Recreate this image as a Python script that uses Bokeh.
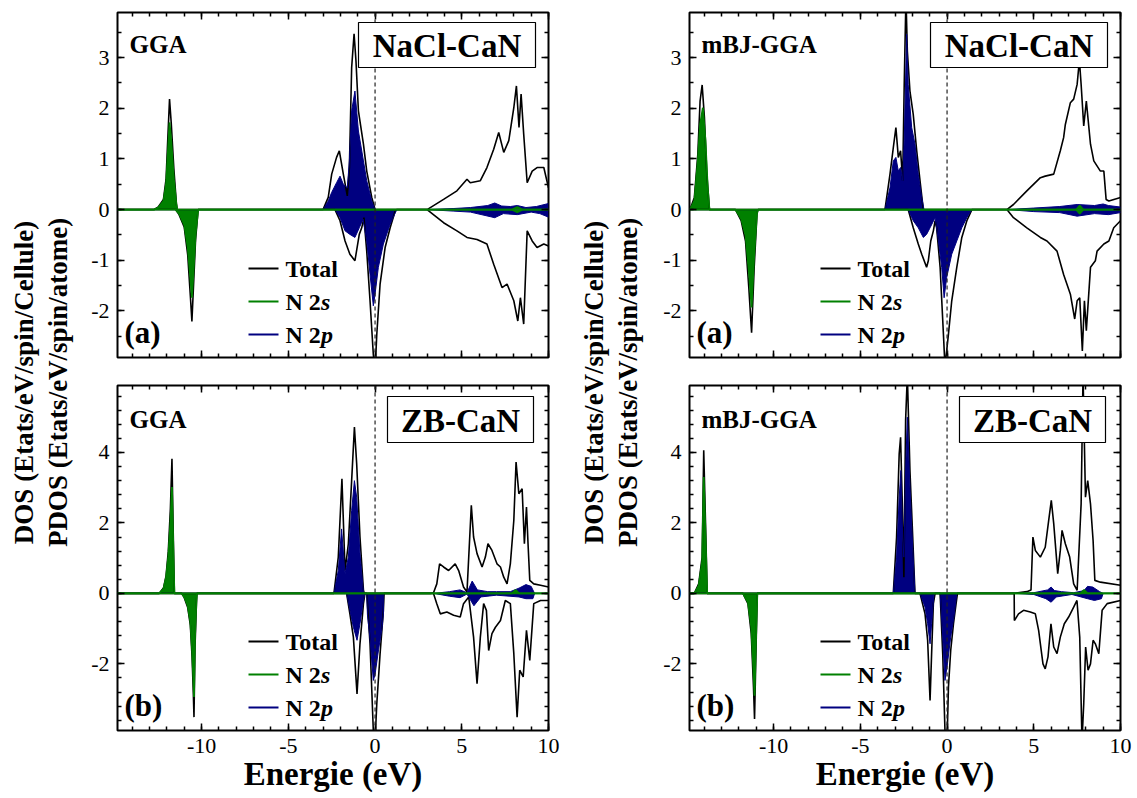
import math
from bokeh.plotting import figure
from bokeh.models import Range1d, LinearAxis, Span, Label, BoxAnnotation, FixedTicker
from bokeh.layouts import row, column
from bokeh.embed import file_html
from bokeh.resources import INLINE

FONT = "Liberation Serif"
GREEN = "#008000"
NAVY = "#000080"

# ---------------- axis ranges / ticks ----------------
E_RANGE = (-14.85, 10.0)
Y_RANGE_NACL = (-2.92, 3.89)
Y_RANGE_ZB = (-3.89, 5.9)
X_TICKS = [-10, -5, 0, 5, 10]
X_MINOR = [-14, -13, -12, -11, -10, -9, -8, -7, -6, -5, -4, -3, -2, -1, 0, 1, 2, 3, 4, 5, 6, 7, 8, 9, 10]
Y_TICKS_NACL = [-2, -1, 0, 1, 2, 3]
Y_MINOR_NACL = [-2.5, -2, -1.5, -1, -0.5, 0, 0.5, 1, 1.5, 2, 2.5, 3, 3.5]
Y_TICKS_ZB = [-2, 0, 2, 4]
Y_MINOR_ZB = [-3.6, -3.2, -2.8, -2.4, -2.0, -1.6, -1.2, -0.8, -0.4, 0.0, 0.4, 0.8, 1.2, 1.6,
              2.0, 2.4, 2.8, 3.2, 3.6, 4.0, 4.4, 4.8, 5.2, 5.6]

# ---------------- texts ----------------
METHODS = ["GGA", "GGA", "mBJ-GGA", "mBJ-GGA"]
PHASES = ["NaCl-CaN", "ZB-CaN", "NaCl-CaN", "ZB-CaN"]
TAGS = ["(a)", "(b)", "(a)", "(b)"]
LEGEND_MAIN = ["Total", "N 2", "N 2"]
LEGEND_ITALIC = ["", "s", "p"]
X_TITLE = "Energie (eV)"
Y_TITLE_1 = "DOS (Etats/eV/spin/Cellule)"
Y_TITLE_2 = "PDOS (Etats/eV/spin/atome)"

# ---------------- data: (energy eV, DOS) ----------------
# GGA, NaCl-CaN
GGA_NACL_TOT_UP = [(-14.85, 0), (-12.75, 0), (-12.5, 0.05), (-12.2, 0.2), (-12.05, 0.6), (-11.95, 1.4), (-11.85, 2.18),
                   (-11.75, 1.7), (-11.6, 0.8), (-11.45, 0.1), (-11.4, 0),
                   (-3.0, 0), (-2.7, 0.24), (-2.5, 0.7), (-2.22, 1.03), (-2.06, 1.16), (-1.83, 0.7), (-1.6, 0.27),
                   (-1.48, 0.83), (-1.35, 2.8), (-1.21, 3.47), (-1.1, 2.93), (-0.96, 1.95), (-0.67, 1.29),
                   (-0.48, 0.76), (-0.19, 0.24), (0.0, 0),
                   (3.0, 0), (3.95, 0.2), (4.72, 0.37), (5.3, 0.6), (5.49, 0.53), (6.07, 0.57), (6.45, 0.83),
                   (6.84, 1.19), (7.13, 1.52), (7.42, 1.13), (7.71, 1.36), (8.0, 2.01), (8.15, 2.44), (8.3, 1.62),
                   (8.42, 2.28), (8.57, 1.49), (8.77, 0.53), (9.06, 0.76), (9.34, 0.83), (9.73, 0.83), (10.0, 0.43)]
GGA_NACL_TOT_DN = [(-14.85, 0), (-11.5, 0), (-11.3, -0.1), (-11.0, -0.35), (-10.8, -0.9), (-10.65, -1.7),
                   (-10.56, -2.21), (-10.48, -1.6), (-10.35, -0.6), (-10.2, 0),
                   (-2.31, 0), (-2.02, -0.22), (-1.73, -0.62), (-1.45, -0.88), (-1.16, -1.01), (-0.91, -0.49),
                   (-0.77, -0.36), (-0.64, -0.16), (-0.48, -0.82), (-0.29, -1.8), (-0.1, -2.86), (0.0, -3.2),
                   (0.1, -2.46), (0.29, -1.47), (0.58, -0.75), (0.87, -0.36), (1.16, -0.03), (1.25, 0),
                   (3.0, 0), (3.95, -0.26), (4.72, -0.42), (5.3, -0.55), (5.88, -0.59), (6.45, -0.68), (6.84, -1.08),
                   (7.32, -1.54), (7.61, -1.47), (8.0, -1.8), (8.23, -2.2), (8.38, -1.74), (8.57, -2.26),
                   (8.77, -0.42), (9.06, -0.62), (9.34, -0.75), (9.73, -0.68), (10.0, -0.72)]
GGA_NACL_S_UP = [(-14.85, 0), (-12.75, 0), (-12.5, 0.04), (-12.2, 0.17), (-12.05, 0.5), (-11.95, 1.1), (-11.85, 1.72),
                 (-11.75, 1.35), (-11.6, 0.6), (-11.45, 0.08), (-11.4, 0), (7.9, 0), (8.2, 0.05), (8.5, 0), (10.0, 0)]
GGA_NACL_S_DN = [(-14.85, 0), (-11.5, 0), (-11.3, -0.08), (-11.0, -0.3), (-10.8, -0.75), (-10.65, -1.35),
                 (-10.56, -1.74), (-10.48, -1.3), (-10.35, -0.5), (-10.2, 0), (7.9, 0), (8.2, -0.05), (8.5, 0),
                 (10.0, 0)]
GGA_NACL_P_UP = [(-14.85, 0), (-3.0, 0), (-2.7, 0.17), (-2.5, 0.34), (-2.22, 0.53), (-2.02, 0.66), (-1.83, 0.5),
                 (-1.6, 0.43), (-1.48, 0.96), (-1.35, 1.95), (-1.16, 2.34), (-0.96, 1.55), (-0.67, 0.96),
                 (-0.48, 0.57), (-0.19, 0.17), (0.0, 0), (3.0, 0), (4.5, 0.02), (5.5, 0.04), (6.5, 0.08),
                 (6.9, 0.13), (7.3, 0.07), (7.8, 0.06), (8.2, 0.08), (8.7, 0.04), (9.3, 0.06), (10.0, 0.12)]
GGA_NACL_P_DN = [(-14.85, 0), (-2.31, 0), (-2.02, -0.16), (-1.73, -0.42), (-1.45, -0.49), (-1.16, -0.55),
                 (-0.91, -0.36), (-0.69, -0.19), (-0.48, -0.62), (-0.29, -1.28), (-0.1, -1.9), (0.0, -1.67),
                 (0.19, -1.14), (0.48, -0.68), (0.87, -0.29), (1.25, 0), (3.0, 0), (4.5, -0.03), (5.5, -0.05),
                 (6.9, -0.16), (7.4, -0.08), (8.2, -0.1), (9.0, -0.05), (9.5, -0.08), (10.0, -0.15)]

# GGA, ZB-CaN
GGA_ZB_TOT_UP = [(-14.85, 0), (-12.45, 0), (-12.2, 0.15), (-12.05, 0.5), (-11.92, 1.2), (-11.8, 2.4), (-11.71, 3.82),
                 (-11.64, 1.8), (-11.57, 0),
                 (-2.37, 0), (-2.12, 1.03), (-1.91, 3.25), (-1.73, 0.65), (-1.54, 1.41), (-1.35, 3.2),
                 (-1.19, 4.72), (-1.06, 3.68), (-0.87, 1.6), (-0.67, 0.09), (-0.62, 0),
                 (3.2, 0), (3.37, 0.02), (3.56, 0.27), (3.72, 0.84), (3.95, 0.75), (4.24, 0.65), (4.62, 0.84),
                 (4.82, 0.65), (5.1, 0.18), (5.3, 0.04), (5.55, 2.5), (5.68, 1.6), (5.88, 1.13), (6.17, 0.75),
                 (6.36, 1.03), (6.51, 1.41), (6.74, 1.22), (7.03, 0.84), (7.23, 0.75), (7.42, 0.46), (7.61, 0.27),
                 (7.8, 0.84), (8.0, 2.07), (8.13, 3.73), (8.29, 2.83), (8.48, 2.97), (8.61, 1.41), (8.73, 2.45),
                 (8.82, 1.41), (8.92, 0.37), (9.15, 0.27), (9.54, 0.23), (10.0, 0.18)]
GGA_ZB_TOT_DN = [(-14.85, 0), (-11.15, 0), (-11.0, -0.12), (-10.8, -0.4), (-10.65, -0.9), (-10.55, -1.8),
                 (-10.48, -2.8), (-10.44, -3.51), (-10.38, -1.5), (-10.3, -0.3), (-10.27, 0),
                 (-1.64, 0), (-1.45, -0.58), (-1.25, -1.24), (-1.04, -2.85), (-0.87, -1.43), (-0.67, -0.29),
                 (-0.58, 0), (-0.48, 0), (-0.29, -1.43), (-0.1, -3.9), (0.0, -4.2), (0.1, -3.13), (0.29, -1.71),
                 (0.48, -0.48), (0.52, 0),
                 (3.37, 0), (3.56, -0.29), (3.76, -0.58), (4.14, -0.53), (4.53, -0.62), (4.91, -0.67),
                 (5.1, -0.29), (5.4, -0.1), (5.68, -1.24), (5.88, -2.56), (6.07, -1.24), (6.26, -0.29),
                 (6.42, -0.48), (6.55, -1.62), (6.74, -1.14), (6.94, -0.96), (7.23, -0.77), (7.51, -0.2),
                 (7.8, -0.29), (8.0, -1.71), (8.19, -3.51), (8.34, -2.18), (8.54, -2.37), (8.73, -1.05),
                 (8.92, -1.9), (9.15, -0.29), (9.54, -0.2), (10.0, -0.2)]
GGA_ZB_S_UP = [(-14.85, 0), (-12.45, 0), (-12.2, 0.13), (-12.05, 0.45), (-11.92, 1.05), (-11.8, 2.0), (-11.71, 3.02),
               (-11.64, 1.45), (-11.57, 0), (7.9, 0), (8.1, 0.1), (8.3, 0), (10.0, 0)]
GGA_ZB_S_DN = [(-14.85, 0), (-11.15, 0), (-11.0, -0.1), (-10.8, -0.35), (-10.65, -0.8), (-10.55, -1.6),
               (-10.48, -2.4), (-10.44, -2.94), (-10.38, -1.2), (-10.3, -0.2), (-10.27, 0), (10.0, 0)]
GGA_ZB_P_UP = [(-14.85, 0), (-2.37, 0), (-2.12, 0.65), (-1.93, 1.83), (-1.73, 0.56), (-1.54, 1.03), (-1.35, 2.35),
               (-1.19, 3.2), (-1.06, 2.73), (-0.87, 1.13), (-0.67, 0.04), (-0.62, 0), (3.4, 0), (4.3, 0.05),
               (4.9, 0.1), (5.3, 0.02), (5.6, 0.35), (5.9, 0.1), (6.5, 0.05), (7.0, 0.05), (7.8, 0.05),
               (8.3, 0.15), (8.7, 0.25), (9.0, 0.2), (9.2, 0), (10.0, 0)]
GGA_ZB_P_DN = [(-14.85, 0), (-1.64, 0), (-1.45, -0.48), (-1.25, -0.96), (-1.04, -1.33), (-0.87, -0.86),
               (-0.67, -0.2), (-0.58, 0), (-0.48, 0), (-0.44, -0.6), (-0.29, -1.3), (-0.1, -2.47), (0.0, -2.3),
               (0.2, -1.6), (0.4, -1.0), (0.48, -0.6), (0.5, 0), (3.4, 0), (4.3, -0.08), (4.9, -0.12),
               (5.3, -0.02), (5.7, -0.35), (6.1, -0.1), (7.0, -0.05), (8.3, -0.1), (8.7, -0.15), (9.1, -0.15),
               (9.2, 0), (10.0, 0)]

# mBJ-GGA, NaCl-CaN
MBJ_NACL_TOT_UP = [(-14.85, 0), (-14.82, 0), (-14.57, 0.24), (-14.37, 1.09), (-14.24, 2.14), (-14.12, 2.46),
                   (-13.99, 1.82), (-13.85, 0.7), (-13.7, 0),
                   (-3.58, 0), (-3.29, 0.7), (-3.1, 1.22), (-2.95, 1.62), (-2.81, 1.03), (-2.68, 1.16),
                   (-2.56, 0.57), (-2.47, 2.47), (-2.37, 4.2), (-2.29, 3.13), (-2.14, 2.34), (-1.95, 1.88),
                   (-1.75, 1.16), (-1.56, 0.57), (-1.37, 0),
                   (3.45, 0), (3.83, 0.1), (4.6, 0.37), (5.38, 0.63), (5.66, 0.66), (6.15, 0.7), (6.53, 1.16),
                   (6.72, 1.42), (6.82, 1.68), (7.11, 2.11), (7.3, 2.18), (7.5, 2.47), (7.63, 2.95), (7.73, 2.47),
                   (7.88, 1.65), (8.03, 2.14), (8.27, 1.29), (8.46, 0.96), (8.84, 0.76), (9.04, 0.76),
                   (9.17, 0.2), (9.33, 0.17), (10.0, 0.24)]
MBJ_NACL_TOT_DN = [(-14.85, 0), (-12.2, 0), (-11.87, -0.22), (-11.62, -0.62), (-11.43, -1.54), (-11.27, -2.43),
                   (-11.12, -1.14), (-10.96, -0.09), (-10.9, 0),
                   (-2.24, 0), (-1.95, -0.36), (-1.66, -0.68), (-1.46, -0.88), (-1.18, -1.14), (-1.08, -1.01),
                   (-0.94, -0.62), (-0.79, -0.42), (-0.69, -0.22), (-0.6, -0.36), (-0.4, -1.14), (-0.21, -2.46),
                   (-0.12, -3.1), (0.08, -2.46), (0.27, -1.8), (0.56, -1.14), (0.85, -0.55), (1.14, -0.22),
                   (1.43, 0),
                   (3.45, 0), (3.83, -0.16), (4.6, -0.36), (5.38, -0.55), (5.76, -0.62), (6.34, -0.82),
                   (6.72, -1.28), (7.11, -1.67), (7.36, -2.16), (7.5, -1.8), (7.65, -1.74), (7.8, -2.79),
                   (7.92, -1.8), (8.03, -2.39), (8.27, -1.14), (8.55, -1.01), (8.65, -0.82), (9.04, -0.68),
                   (9.33, -0.62), (9.61, -0.36), (10.0, -0.22)]
MBJ_NACL_S_UP = [(-14.85, 0), (-14.82, 0), (-14.57, 0.17), (-14.37, 0.96), (-14.24, 1.68), (-14.08, 2.01),
                 (-13.93, 1.36), (-13.8, 0.43), (-13.7, 0), (7.45, 0), (7.65, 0.08), (7.85, 0), (10.0, 0)]
MBJ_NACL_S_DN = [(-14.85, 0), (-12.2, 0), (-11.87, -0.18), (-11.62, -0.5), (-11.43, -1.2), (-11.27, -1.93),
                 (-11.12, -0.9), (-10.96, -0.07), (-10.9, 0), (7.45, 0), (7.65, -0.08), (7.85, 0), (10.0, 0)]
MBJ_NACL_P_UP = [(-14.85, 0), (-3.58, 0), (-3.29, 0.43), (-3.1, 0.96), (-2.95, 1.03), (-2.81, 0.76), (-2.68, 0.83),
                 (-2.56, 0.57), (-2.47, 1.36), (-2.33, 3.46), (-2.24, 2.47), (-2.04, 1.62), (-1.85, 1.29),
                 (-1.66, 0.7), (-1.46, 0.24), (-1.33, 0), (3.5, 0), (5.0, 0.03), (6.5, 0.06), (7.5, 0.1),
                 (8.5, 0.08), (9.0, 0.11), (9.3, 0.08), (10.0, 0.05)]
MBJ_NACL_P_DN = [(-14.85, 0), (-2.24, 0), (-1.95, -0.22), (-1.66, -0.36), (-1.37, -0.55), (-1.18, -0.49),
                 (-0.98, -0.36), (-0.69, -0.16), (-0.5, -0.62), (-0.31, -1.14), (-0.17, -1.74), (-0.02, -1.34),
                 (0.27, -0.88), (0.56, -0.62), (0.85, -0.36), (1.14, -0.16), (1.43, 0), (3.5, 0), (5.0, -0.04),
                 (6.5, -0.06), (7.5, -0.13), (8.5, -0.08), (9.3, -0.1), (10.0, -0.06)]

# mBJ-GGA, ZB-CaN
MBJ_ZB_TOT_UP = [(-14.85, 0), (-14.57, 0), (-14.32, 0.27), (-14.12, 1.03), (-14.03, 4.06), (-13.93, 2.07),
                 (-13.83, 0),
                 (-3.1, 0), (-2.91, 1.6), (-2.76, 3.96), (-2.68, 4.43), (-2.58, 2.54), (-2.49, 0.46), (-2.39, 4.91),
                 (-2.29, 6.2), (-2.14, 3.49), (-1.98, 1.6), (-1.85, 0),
                 (3.83, 0), (4.6, 0.05), (4.84, 0.1), (4.95, 1.6), (5.09, 1.22), (5.38, 1.03), (5.66, 1.31),
                 (5.86, 2.07), (6.01, 2.64), (6.15, 1.98), (6.38, 0.56), (6.53, 1.22), (6.63, 1.79), (6.82, 1.41),
                 (7.07, 1.03), (7.3, 0.27), (7.5, 0.09), (7.73, 2.54), (7.84, 6.2), (7.98, 2.73), (8.11, 3.2),
                 (8.27, 2.54), (8.42, 1.5), (8.52, 0.37), (8.84, 0.32), (10.0, 0.23)]
MBJ_ZB_TOT_DN = [(-14.85, 0), (-11.77, 0), (-11.48, -0.29), (-11.29, -1.14), (-11.16, -2.66), (-11.1, -3.56),
                 (-11.0, -1.24), (-10.94, 0),
                 (-1.56, 0), (-1.27, -0.58), (-1.12, -1.33), (-0.98, -3.04), (-0.89, -1.7), (-0.79, -0.29),
                 (-0.69, 0), (-0.4, 0), (-0.25, -1.71), (-0.12, -3.9), (0.0, -4.2), (0.08, -2.66), (0.21, -1.62),
                 (0.37, -0.86), (0.52, -0.29), (0.6, 0),
                 (3.87, 0), (3.88, -0.77), (4.12, -0.58), (4.41, -0.48), (4.8, -0.53), (5.09, -0.58),
                 (5.28, -1.05), (5.53, -2.0), (5.66, -2.14), (5.82, -1.8), (5.99, -0.86), (6.15, -1.52),
                 (6.34, -1.71), (6.53, -1.24), (6.76, -0.86), (7.01, -0.67), (7.3, -0.39), (7.49, -0.2),
                 (7.65, -1.24), (7.78, -4.2), (7.88, -3.13), (7.99, -1.52), (8.13, -2.18), (8.27, -2.0),
                 (8.42, -1.33), (8.55, -1.43), (8.75, -1.71), (8.94, -0.48), (9.23, -0.29), (10.0, -0.2)]
MBJ_ZB_S_UP = [(-14.85, 0), (-14.57, 0), (-14.32, 0.22), (-14.12, 0.9), (-14.03, 3.3), (-13.93, 1.7), (-13.83, 0),
               (7.7, 0), (7.9, 0.1), (8.1, 0), (10.0, 0)]
MBJ_ZB_S_DN = [(-14.85, 0), (-11.77, 0), (-11.48, -0.25), (-11.29, -0.95), (-11.16, -2.2), (-11.1, -2.9),
               (-11.0, -1.0), (-10.94, 0), (10.0, 0)]
MBJ_ZB_P_UP = [(-14.85, 0), (-3.1, 0), (-2.91, 1.03), (-2.76, 2.73), (-2.66, 3.49), (-2.56, 1.6), (-2.49, 1.03),
               (-2.39, 3.49), (-2.29, 5.0), (-2.14, 3.02), (-1.98, 1.31), (-1.85, 0), (4.0, 0), (5.0, 0.02),
               (5.8, 0.1), (6.0, 0.18), (6.2, 0.08), (6.6, 0.05), (7.3, 0.02), (7.9, 0.08), (8.1, 0.2),
               (8.4, 0.18), (8.8, 0.05), (9.0, 0), (10.0, 0)]
MBJ_ZB_P_DN = [(-14.85, 0), (-1.56, 0), (-1.27, -0.39), (-1.12, -0.86), (-0.98, -1.43), (-0.89, -0.86),
               (-0.75, 0), (-0.4, 0), (-0.25, -1.24), (-0.12, -2.47), (0.02, -2.0), (0.21, -1.24), (0.4, -0.67),
               (0.56, 0), (4.0, 0), (5.0, -0.03), (5.7, -0.15), (6.0, -0.25), (6.3, -0.1), (7.2, -0.03),
               (8.1, -0.15), (8.5, -0.2), (8.9, -0.15), (9.0, 0), (10.0, 0)]

# ---------------- layout constants (pixels) ----------------
FW, FH = 431, 345


def xy(pts):
    return [a for a, b in pts], [b for a, b in pts]


def style_axis(ax, ticks, minor, show_labels):
    ax.ticker = FixedTicker(ticks=ticks, minor_ticks=minor)
    ax.axis_line_color = None
    ax.major_tick_in = 7
    ax.major_tick_out = 0
    ax.minor_tick_in = 4
    ax.minor_tick_out = 0
    ax.major_tick_line_color = "black"
    ax.major_tick_line_width = 1.5
    ax.minor_tick_line_color = "black"
    ax.minor_tick_line_width = 1.5
    ax.major_label_text_font = FONT
    if show_labels:
        ax.major_label_text_color = "black"
        ax.major_label_text_font_size = "22px"
        ax.major_label_overrides = {t: str(t) for t in ticks}
    else:
        ax.major_label_text_color = None
        ax.major_label_text_alpha = 0
        ax.major_label_text_font_size = "1px"
        ax.major_label_standoff = 0


def build_panel(idx, data, yr, yticks, yminor, bottom, bl, br):
    tot_up, tot_dn, s_up, s_dn, p_up, p_dn = data
    p = figure(frame_width=FW, frame_height=FH, x_range=Range1d(*E_RANGE), y_range=Range1d(*yr),
               output_backend="svg", toolbar_location=None,
               min_border_left=bl, min_border_right=br,
               min_border_top=14 if bottom else 12, min_border_bottom=68 if bottom else 14)
    p.xgrid.visible = False
    p.ygrid.visible = False
    p.outline_line_color = "black"
    p.outline_line_width = 2
    p.background_fill_color = "white"
    p.border_fill_color = "white"

    bottom_ax = p.xaxis[0]
    left_ax = p.yaxis[0]
    style_axis(bottom_ax, X_TICKS, X_MINOR, bottom)
    style_axis(left_ax, yticks, yminor, True)
    left_ax.major_label_standoff = 8
    if bottom:
        bottom_ax.major_label_standoff = 8
        bottom_ax.axis_label = X_TITLE
        bottom_ax.axis_label_text_font = FONT
        bottom_ax.axis_label_text_font_style = "bold"
        bottom_ax.axis_label_text_font_size = "33px"
        bottom_ax.axis_label_text_color = "black"
        bottom_ax.axis_label_standoff = 0
    top_ax = LinearAxis()
    right_ax = LinearAxis()
    style_axis(top_ax, X_TICKS, X_MINOR, False)
    style_axis(right_ax, yticks, yminor, False)
    p.add_layout(top_ax, "above")
    p.add_layout(right_ax, "right")

    # Fermi level
    p.add_layout(Span(location=0, dimension="height", line_color="#222222", line_width=1.2,
                      line_dash="4 3"))

    # fills
    for pts, col in [(p_up, NAVY), (p_dn, NAVY), (s_up, GREEN), (s_dn, GREEN)]:
        x, y = xy(pts)
        p.varea(x=x, y1=0, y2=y, fill_color=col, fill_alpha=1.0)
    # total
    for pts in (tot_up, tot_dn):
        x, y = xy(pts)
        p.line(x, y, line_color="black", line_width=1.6)
    for pts in (p_up, p_dn):
        x, y = xy(pts)
        p.line(x, y, line_color=NAVY, line_width=1.0)
    for pts in (s_up, s_dn):
        x, y = xy(pts)
        p.line(x, y, line_color=GREEN, line_width=1.8)

    def X(dx):
        return E_RANGE[0] + dx / FW * (E_RANGE[1] - E_RANGE[0])

    def Y(dy):
        return yr[1] - dy / FH * (yr[1] - yr[0])

    # method label
    p.add_layout(Label(x=X(12), y=Y(34 if bottom else 32), text=METHODS[idx], text_font=FONT,
                       text_font_style="bold", text_font_size="25px", text_color="black",
                       text_align="left", text_baseline="alphabetic"))
    # phase box
    if bottom:
        bx = (270, 416, 11, 57)
    else:
        bx = (241, 418, 10, 55)
    p.add_layout(BoxAnnotation(left=X(bx[0]), right=X(bx[1]), top=Y(bx[2]), bottom=Y(bx[3]),
                               fill_color="white", fill_alpha=1.0, line_color="black", line_alpha=1.0,
                               line_width=1.2))
    p.add_layout(Label(x=X((bx[0] + bx[1]) / 2), y=Y((bx[2] + bx[3]) / 2 + 1), text=PHASES[idx], text_font=FONT,
                       text_font_style="bold", text_font_size="33px", text_color="black",
                       text_align="center", text_baseline="middle"))
    # tag
    p.add_layout(Label(x=X(7), y=Y(320), text=TAGS[idx], text_font=FONT, text_font_style="bold",
                       text_font_size="31px", text_color="black", text_align="left", text_baseline="middle"))
    # legend
    leg_y = [256, 289, 322]
    leg_col = ["black", GREEN, NAVY]
    p.segment(x0=[X(131)] * 3, x1=[X(161)] * 3, y0=[Y(v) for v in leg_y], y1=[Y(v) for v in leg_y],
              line_color=leg_col, line_width=2)
    for k in range(3):
        p.add_layout(Label(x=X(168), y=Y(leg_y[k]), text=LEGEND_MAIN[k], text_font=FONT, text_font_style="bold",
                           text_font_size="24px", text_color="black", text_align="left", text_baseline="middle"))
        if LEGEND_ITALIC[k]:
            p.add_layout(Label(x=X(168 + 35.5), y=Y(leg_y[k]), text=LEGEND_ITALIC[k], text_font=FONT,
                               text_font_style="bold italic", text_font_size="24px", text_color="black",
                               text_align="left", text_baseline="middle"))
    return p


def title_fig(w, x1, x2):
    t = figure(width=w, height=798, x_range=Range1d(0, w), y_range=Range1d(0, 798),
               output_backend="svg", toolbar_location=None, x_axis_location=None, y_axis_location=None,
               min_border=0, min_border_left=0, min_border_right=0, min_border_top=0, min_border_bottom=0)
    t.xgrid.visible = False
    t.ygrid.visible = False
    t.outline_line_color = None
    for xx, txt in [(x1, Y_TITLE_1), (x2, Y_TITLE_2)]:
        t.add_layout(Label(x=xx, y=798 - 382, text=txt, angle=math.pi / 2, text_font=FONT,
                           text_font_style="bold", text_font_size="27px", text_color="black",
                           text_align="center", text_baseline="middle"))
    return t


f1 = build_panel(0, (GGA_NACL_TOT_UP, GGA_NACL_TOT_DN, GGA_NACL_S_UP, GGA_NACL_S_DN, GGA_NACL_P_UP, GGA_NACL_P_DN),
                 Y_RANGE_NACL, Y_TICKS_NACL, Y_MINOR_NACL, False, 37, 27)
f2 = build_panel(1, (GGA_ZB_TOT_UP, GGA_ZB_TOT_DN, GGA_ZB_S_UP, GGA_ZB_S_DN, GGA_ZB_P_UP, GGA_ZB_P_DN),
                 Y_RANGE_ZB, Y_TICKS_ZB, Y_MINOR_ZB, True, 37, 27)
f3 = build_panel(2, (MBJ_NACL_TOT_UP, MBJ_NACL_TOT_DN, MBJ_NACL_S_UP, MBJ_NACL_S_DN, MBJ_NACL_P_UP, MBJ_NACL_P_DN),
                 Y_RANGE_NACL, Y_TICKS_NACL, Y_MINOR_NACL, False, 34, 17)
f4 = build_panel(3, (MBJ_ZB_TOT_UP, MBJ_ZB_TOT_DN, MBJ_ZB_S_UP, MBJ_ZB_S_DN, MBJ_ZB_P_UP, MBJ_ZB_P_DN),
                 Y_RANGE_ZB, Y_TICKS_ZB, Y_MINOR_ZB, True, 34, 17)

tL = title_fig(80, 23, 57)
tR = title_fig(80, 18, 52)

layout = row(tL, column(f1, f2), tR, column(f3, f4))
open("out.html", "w").write(file_html(layout, INLINE))
